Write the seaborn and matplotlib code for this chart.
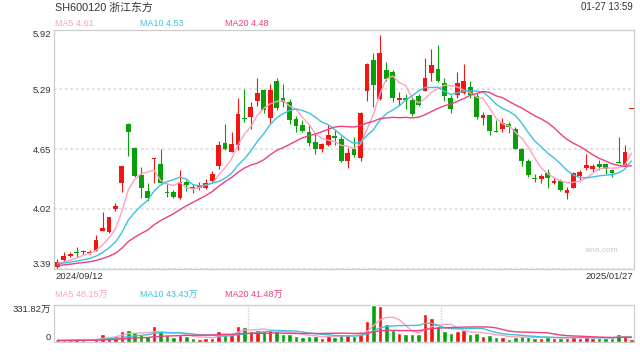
import numpy as np
import pandas as pd
import matplotlib
matplotlib.use("Agg")
import matplotlib.pyplot as plt
import seaborn as sns

# daily bars, 2024/09/12 .. 2025/01/27
opens = [3.41, 3.48, 3.52, 3.56, 3.56, 3.55, 3.58, 3.79, 3.78, 4.02,
         4.30, 4.92, 4.67, 4.38, 4.21, 4.55, 4.50, 4.20, 4.20, 4.14,
         4.31, 4.25, 4.24, 4.24, 4.32, 4.48, 4.72, 4.62, 4.70, 4.98,
         4.99, 5.16, 5.28, 4.98, 5.37, 5.20, 5.15, 4.97, 4.91, 4.84,
         4.73, 4.65, 4.70, 4.79, 4.76, 4.53, 4.65, 4.56, 5.27, 5.60,
         5.18, 5.49, 5.47, 5.17, 5.20, 5.17, 5.22, 5.27, 5.46, 5.50,
         5.35, 5.20, 5.23, 5.25, 5.31, 5.22, 4.98, 5.01, 4.84, 4.87,
         4.92, 4.87, 4.65, 4.53, 4.35, 4.34, 4.40, 4.29, 4.32, 4.19,
         4.24, 4.37, 4.45, 4.44, 4.50, 4.50, 4.43, 4.52, 4.49, 5.08]
highs = [3.49, 3.56, 3.56, 3.62, 3.59, 3.59, 3.74, 3.99, 3.93, 4.08,
         4.48, 4.93, 4.68, 4.46, 4.29, 4.56, 4.66, 4.30, 4.22, 4.43,
         4.33, 4.28, 4.31, 4.34, 4.42, 4.74, 4.92, 4.84, 5.20, 5.29,
         5.15, 5.41, 5.29, 5.34, 5.41, 5.34, 5.18, 5.00, 4.96, 4.92,
         4.81, 4.72, 4.91, 4.86, 4.79, 4.67, 4.78, 5.05, 5.57, 5.67,
         5.86, 5.58, 5.49, 5.26, 5.24, 5.21, 5.24, 5.62, 5.71, 5.76,
         5.41, 5.23, 5.47, 5.56, 5.37, 5.25, 5.05, 5.02, 4.96, 4.98,
         4.94, 4.89, 4.67, 4.55, 4.39, 4.39, 4.44, 4.36, 4.34, 4.25,
         4.41, 4.43, 4.60, 4.50, 4.54, 4.51, 4.44, 4.78, 4.70, 5.08]
lows = [3.40, 3.47, 3.51, 3.51, 3.54, 3.54, 3.57, 3.79, 3.77, 4.00,
        4.20, 4.58, 4.36, 4.14, 4.10, 4.29, 4.29, 4.15, 4.14, 4.13,
        4.21, 4.19, 4.22, 4.23, 4.31, 4.44, 4.64, 4.62, 4.64, 4.94,
        4.87, 5.11, 5.04, 4.93, 5.07, 5.10, 4.92, 4.83, 4.84, 4.69,
        4.60, 4.62, 4.69, 4.70, 4.52, 4.45, 4.57, 4.53, 5.16, 5.10,
        5.17, 5.38, 5.15, 5.12, 5.08, 5.00, 5.11, 5.27, 5.38, 5.36,
        5.16, 5.04, 5.19, 5.24, 5.19, 4.97, 4.91, 4.80, 4.83, 4.84,
        4.82, 4.65, 4.47, 4.36, 4.31, 4.29, 4.24, 4.28, 4.21, 4.13,
        4.24, 4.33, 4.43, 4.41, 4.43, 4.39, 4.36, 4.51, 4.48, 5.08]
closes = [3.46, 3.52, 3.54, 3.55, 3.57, 3.56, 3.69, 3.82, 3.93, 4.05,
          4.47, 4.84, 4.37, 4.24, 4.14, 4.56, 4.30, 4.19, 4.15, 4.31,
          4.27, 4.24, 4.26, 4.29, 4.39, 4.70, 4.65, 4.71, 5.03, 4.97,
          5.10, 5.25, 5.07, 5.28, 5.09, 5.15, 4.96, 4.90, 4.85, 4.72,
          4.66, 4.71, 4.80, 4.77, 4.53, 4.61, 4.59, 5.04, 5.55, 5.33,
          5.67, 5.40, 5.19, 5.20, 5.17, 5.03, 5.12, 5.41, 5.54, 5.37,
          5.22, 5.08, 5.35, 5.37, 5.23, 4.99, 5.01, 4.85, 4.83, 4.93,
          4.89, 4.66, 4.53, 4.38, 4.34, 4.37, 4.35, 4.32, 4.22, 4.22,
          4.40, 4.41, 4.49, 4.47, 4.46, 4.44, 4.40, 4.51, 4.62, 5.08]
# volume in 万
volumes = [15, 22, 18, 25, 14, 12, 40, 70, 55, 50,
           95, 105, 90, 70, 55, 146, 100, 60, 45, 65,
           50, 38, 30, 35, 40, 95, 85, 70, 146, 137,
           100, 105, 95, 105, 100, 70, 75, 55, 45, 55,
           50, 35, 60, 45, 70, 65, 55, 90, 190, 332,
           323, 164, 105, 80, 70, 75, 70, 252, 217, 146,
           100, 80, 95, 105, 70, 85, 55, 65, 45, 48,
           29.3, 45, 52, 48, 35, 33, 42, 35, 40, 36,
           45.55, 35, 42, 36, 35, 40, 35, 70, 65, 30.75]
# closes / volumes of the sessions just before the window (for the averages)
prior_closes = [3.40, 3.38, 3.37, 3.39, 3.41, 3.40, 3.42, 3.44, 3.43, 3.41,
                3.42, 3.44, 3.45, 3.43, 3.42, 3.44, 3.45, 3.43, 3.44]
prior_volumes = [14, 12, 16, 13, 11, 15, 12, 14, 13, 12,
                 15, 16, 13, 12, 14, 15, 13, 12, 14]

price_ticks = [3.39, 4.02, 4.65, 5.29, 5.92]
vol_ticks = [0, 331.82]
vol_tick_labels = ["0", "331.82万"]
date_labels = ["2024/09/12", "2025/01/27"]

RED = "#f3150f"
GREEN = "#08a008"
C_MA5 = "#ff9fc4"
C_MA10 = "#3cc2e0"
C_MA20 = "#ef3f7c"
TXT = "#333333"
EDGE = "#cccccc"

sns.set_style("white")
plt.rcParams["font.family"] = ["Liberation Sans", "Noto Sans CJK SC"]

n = len(closes)
idx = np.arange(n)
close_s = pd.Series(prior_closes + closes)
vol_s = pd.Series(prior_volumes + volumes)
ma = {w: close_s.rolling(w, min_periods=1).mean().to_numpy()[-n:] for w in (5, 10, 20)}
vma = {w: vol_s.rolling(w, min_periods=1).mean().to_numpy()[-n:] for w in (5, 10, 20)}

up = []
for i in range(n):
    if closes[i] != opens[i]:
        up.append(closes[i] > opens[i])
    else:
        up.append(closes[i] >= (closes[i - 1] if i else opens[i]))
colors = [RED if u else GREEN for u in up]

fig = plt.figure(figsize=(6.4, 3.6), dpi=100)
ax = fig.add_axes([54 / 640, 1 - 268.5 / 360, 580 / 640, 239 / 360])

# candles
ax.vlines(idx, lows, highs, colors=colors, lw=0.8, zorder=3)
body_bottom = np.minimum(opens, closes)
body_h = np.maximum(np.abs(np.array(closes) - np.array(opens)), 0.011)
ax.bar(idx, body_h, bottom=body_bottom, width=0.74, color=colors, lw=0, zorder=3)

for w, c in [(5, C_MA5), (10, C_MA10), (20, C_MA20)]:
    sns.lineplot(x=idx, y=ma[w], ax=ax, color=c, lw=1.0, zorder=4)

ax.set_xlim(-0.52, 89.4)
ax.set_ylim(price_ticks[0], price_ticks[-1])
ax.set_yticks(price_ticks)
ax.set_yticklabels([f"{t:.2f}" for t in price_ticks])
ax.set_xticks([])
ax.set_xlabel("")
ax.set_ylabel("")
ax.tick_params(axis="y", length=0, pad=2.2, labelsize=6.8, labelcolor=TXT)
labs = ax.get_yticklabels()
labs[0].set_va("bottom")
labs[-1].set_va("top")
ax.yaxis.grid(True, linestyle=(0, (1.5, 1.5)), color="#dedede", lw=1.3)
ax.set_axisbelow(True)
for s in ax.spines.values():
    s.set_color(EDGE)
    s.set_linewidth(0.9)

# volume panel
vol_bottom = 342
vax = fig.add_axes([54 / 640, 1 - vol_bottom / 360, 580 / 640, (vol_bottom - 305) / 360])
vdf = pd.DataFrame({"idx": idx, "vol": volumes, "dir": ["up" if u else "down" for u in up]})
sns.barplot(data=vdf, x="idx", y="vol", hue="dir", palette={"up": RED, "down": GREEN},
            native_scale=True, dodge=False, legend=False, width=0.7, saturation=1,
            errorbar=None, ax=vax, zorder=3)
for w, c in [(5, C_MA5), (10, C_MA10), (20, C_MA20)]:
    sns.lineplot(x=idx, y=vma[w], ax=vax, color=c, lw=1.0, zorder=4)
vax.set_xlim(-0.52, 89.4)
vax.set_ylim(vol_ticks[0], vol_ticks[-1])
vax.set_yticks(vol_ticks)
vax.set_yticklabels(vol_tick_labels)
vax.set_xticks([])
vax.set_xlabel("")
vax.set_ylabel("")
vax.tick_params(axis="y", length=0, pad=2.2, labelsize=6.8, labelcolor=TXT)
vl = vax.get_yticklabels()
vl[0].set_va("bottom")
vl[-1].set_va("top")
for xg in (n / 3 - 0.5, 2 * n / 3 - 0.5):
    vax.axvline(xg, color="#d0d0d0", lw=1.0, linestyle=(0, (1, 1)), zorder=1)
for s in vax.spines.values():
    s.set_color(EDGE)
    s.set_linewidth(0.9)
vax.spines["top"].set_linestyle((0, (1, 1)))

# texts
fig.text(55 / 640, 1 - 8 / 360, "SH600120 浙江东方", fontsize=7.8, color=TXT, va="center")
fig.text(633 / 640, 1 - 7.5 / 360, "01-27 13:59", fontsize=7, color=TXT, va="center", ha="right")
for xp, lab, c in [(55, f"MA5 {ma[5][-1]:.2f}", C_MA5), (140, f"MA10 {ma[10][-1]:.2f}", C_MA10),
                   (225, f"MA20 {ma[20][-1]:.2f}", C_MA20)]:
    fig.text(xp / 640, 1 - 23.5 / 360, lab, fontsize=6.5, color=c, va="center")
for xp, lab, c in [(55, f"MA5 {vma[5][-1]:.2f}万", C_MA5), (140, f"MA10 {vma[10][-1]:.2f}万", C_MA10),
                   (225, f"MA20 {vma[20][-1]:.2f}万", C_MA20)]:
    fig.text(xp / 640, 1 - 295 / 360, lab, fontsize=6.5, color=c, va="center")
fig.text(55 / 640, 1 - 276.5 / 360, date_labels[0], fontsize=6.8, color=TXT, va="center")
fig.text(633 / 640, 1 - 276.5 / 360, date_labels[1], fontsize=6.8, color=TXT, va="center", ha="right")
fig.text(602 / 640, 1 - 251 / 360, "sina.com", fontsize=6, color="#c8c8c8", va="center", ha="center")

fig.savefig("out.png", dpi=100)
